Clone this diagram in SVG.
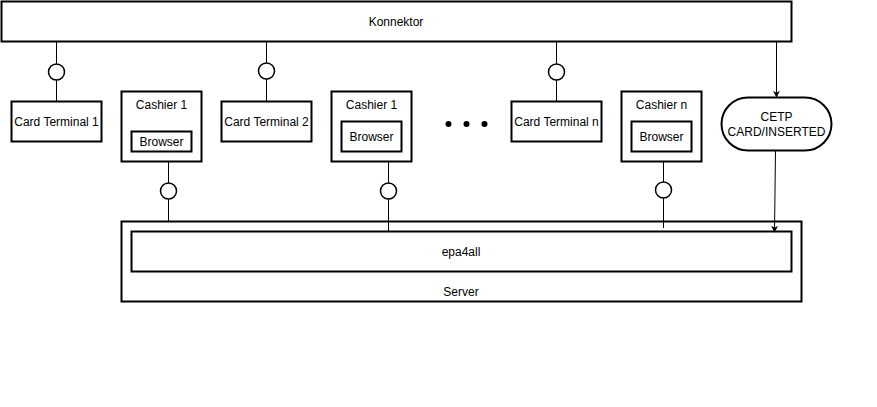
<svg xmlns="http://www.w3.org/2000/svg" width="877" height="407" viewBox="0 0 877 407">
<style>
.box{fill:#fff;stroke:#000;stroke-width:2}
.ln{fill:none;stroke:#000;stroke-width:1}
.lol{fill:#fff;stroke:#000;stroke-width:1.5}
text{font-family:"Liberation Sans",Arial,sans-serif;font-size:12px;fill:#000;text-anchor:middle}
</style>
<defs>
<marker id="arr" viewBox="0 0 10 10" refX="9" refY="5" markerWidth="7" markerHeight="7" orient="auto" markerUnits="userSpaceOnUse">
<path d="M0,0 L10,5 L0,10 L3,5 Z" fill="#000"/>
</marker>
</defs>
<rect width="877" height="407" fill="#fff"/>
<g id="server"><rect class="box" x="121.5" y="221.5" width="680" height="80"/><text x="461" y="296">Server</text></g>
<g id="epa4all"><rect class="box" x="131.5" y="231.5" width="660" height="40"/><text x="461" y="256">epa4all</text></g>
<g id="konnektor"><rect class="box" x="1.5" y="1.5" width="790" height="40"/><text x="396" y="26">Konnektor</text></g>
<g id="connectors">
<line class="ln" x1="56.5" y1="41" x2="56.5" y2="101"/>
<line class="ln" x1="266.5" y1="41" x2="266.5" y2="101"/>
<line class="ln" x1="556.5" y1="41" x2="556.5" y2="101"/>
<line class="ln" x1="168.5" y1="161" x2="168.5" y2="221"/>
<line class="ln" x1="388.5" y1="151" x2="388.5" y2="231"/>
<line class="ln" x1="663.5" y1="151" x2="663.5" y2="228"/>
<circle class="lol" cx="56.5" cy="72" r="8"/>
<circle class="lol" cx="266.5" cy="71" r="8"/>
<circle class="lol" cx="556.5" cy="72" r="8"/>
<circle class="lol" cx="168.5" cy="191" r="8"/>
<circle class="lol" cx="388.5" cy="191" r="8"/>
<circle class="lol" cx="663.5" cy="190" r="8"/>
<line class="ln" x1="776.5" y1="42" x2="776.5" y2="97" marker-end="url(#arr)"/>
<line class="ln" x1="775.5" y1="150" x2="774.5" y2="232" marker-end="url(#arr)"/>
</g>
<g id="ct1"><rect class="box" x="11.5" y="101.5" width="90" height="40"/><text x="56.5" y="126">Card Terminal 1</text></g>
<g id="cashier1"><rect class="box" x="121.5" y="91.5" width="80" height="70"/><text x="161.5" y="109">Cashier 1</text>
<g id="browser1"><rect class="box" x="131.5" y="131.5" width="60" height="20"/><text x="161.5" y="146">Browser</text></g></g>
<g id="ct2"><rect class="box" x="221.5" y="101.5" width="90" height="40"/><text x="266.5" y="126">Card Terminal 2</text></g>
<g id="cashier1b"><rect class="box" x="331.5" y="91.5" width="80" height="70"/><text x="371.5" y="109">Cashier 1</text>
<g id="browser2"><rect class="box" x="341.5" y="121.5" width="60" height="30"/><text x="371.5" y="141">Browser</text></g></g>
<g id="dots"><circle cx="448.5" cy="124" r="3" fill="#000"/><circle cx="466.5" cy="124" r="3" fill="#000"/><circle cx="484.5" cy="124" r="3" fill="#000"/></g>
<g id="ctn"><rect class="box" x="511.5" y="101.5" width="90" height="40"/><text x="556.5" y="126">Card Terminal n</text></g>
<g id="cashiern"><rect class="box" x="621.5" y="91.5" width="80" height="70"/><text x="661.5" y="109">Cashier n</text>
<g id="browsern"><rect class="box" x="631.5" y="121.5" width="60" height="30"/><text x="661.5" y="141">Browser</text></g></g>
<g id="cetp"><rect class="box" x="721.5" y="97.5" width="110" height="53" rx="26.5" ry="26.5"/><text x="776.5" y="121">CETP</text><text x="776.5" y="136">CARD/INSERTED</text></g>
</svg>
